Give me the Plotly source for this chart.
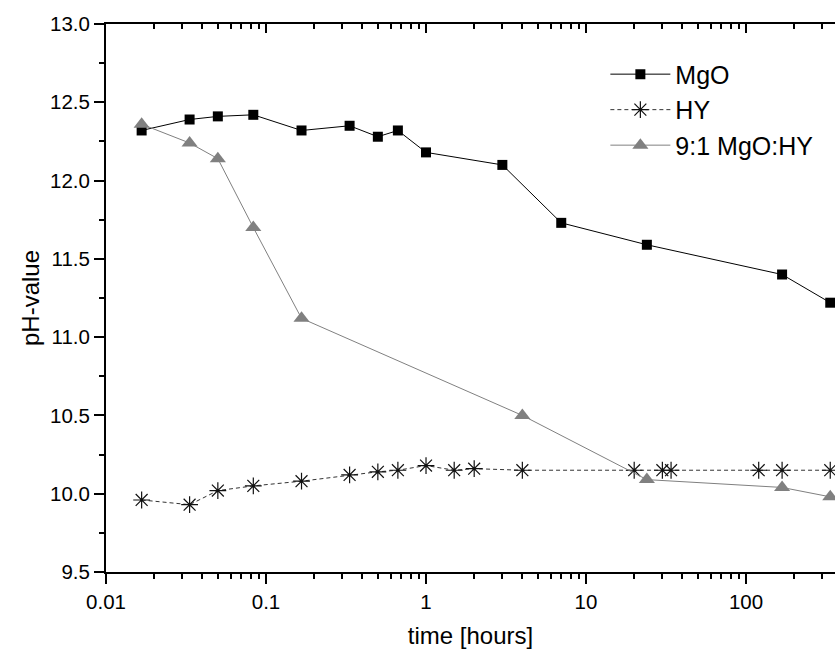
import math
import plotly.graph_objects as go

# ---- data (time in hours, pH values) ----
mgo_t = [0.0167, 0.0333, 0.05, 0.0833, 0.1667, 0.333, 0.5, 0.667, 1, 3, 7, 24, 168, 336]
mgo_ph = [12.32, 12.39, 12.41, 12.42, 12.32, 12.35, 12.28, 12.32, 12.18, 12.10, 11.73, 11.59, 11.40, 11.22]

hy_t = [0.0167, 0.0333, 0.05, 0.0833, 0.1667, 0.333, 0.5, 0.667, 1, 1.5, 2, 4, 20, 30, 34, 120, 168, 336]
hy_ph = [9.96, 9.93, 10.02, 10.05, 10.08, 10.12, 10.14, 10.15, 10.18, 10.15, 10.16, 10.15, 10.15, 10.15, 10.15, 10.15, 10.15, 10.15]

mix_t = [0.0167, 0.0333, 0.05, 0.0833, 0.1667, 4, 24, 168, 336]
mix_ph = [12.36, 12.24, 12.14, 11.70, 11.12, 10.50, 10.09, 10.04, 9.98]

x_tickvals = [0.01, 0.1, 1, 10, 100]
x_ticktext = ["0.01", "0.1", "1", "10", "100"]
y_tickvals = [9.5, 10.0, 10.5, 11.0, 11.5, 12.0, 12.5, 13.0]

FONT = "Arial, 'Liberation Sans', sans-serif"

x_minor = [m * 10 ** k for k in range(-2, 3) for m in range(2, 10)]
x_range = [-2, 2.556]

fig = go.Figure()
fig.add_trace(go.Scatter(
    x=mgo_t, y=mgo_ph, name="MgO", mode="lines+markers",
    line=dict(color="black", width=1),
    marker=dict(symbol="square", size=10, color="black"),
))
fig.add_trace(go.Scatter(
    x=hy_t, y=hy_ph, name="HY", mode="lines+markers",
    line=dict(color="#333333", width=1, dash="4px,3px"),
    marker=dict(symbol="asterisk-open", size=14, color="#111111",
                line=dict(color="#111111", width=1.2)),
))
fig.add_trace(go.Scatter(
    x=mix_t, y=mix_ph, name="9:1 MgO:HY", mode="lines+markers",
    line=dict(color="#808080", width=1),
    marker=dict(symbol="triangle-up", size=14, color="#808080"),
))

fig.update_layout(
    width=835, height=652,
    margin=dict(l=106, r=0, t=24, b=80),
    paper_bgcolor="white", plot_bgcolor="white",
    font=dict(family=FONT, color="black", size=20),
    showlegend=True,
    legend=dict(x=0.685, xanchor="left", y=0.95, yanchor="top",
                font=dict(size=25, family=FONT), bgcolor="rgba(0,0,0,0)",
                itemwidth=60, tracegroupgap=0),
    xaxis=dict(
        type="log", range=x_range,
        tickvals=x_tickvals, ticktext=x_ticktext,
        ticks="outside", ticklen=10, tickwidth=2, tickcolor="black",
        minor=dict(tickvals=x_minor, ticks="outside", ticklen=5, tickwidth=2, tickcolor="black"),
        showline=True, linewidth=2, linecolor="black",
        showgrid=False, zeroline=False,
        tickfont=dict(size=20.5),
        title=dict(text="time [hours]", font=dict(size=24), standoff=16),
    ),
    xaxis2=dict(
        type="log", range=x_range, overlaying="x", side="top", anchor="y",
        tickvals=x_tickvals, showticklabels=False,
        ticks="inside", ticklen=9, tickwidth=2, tickcolor="black",
        minor=dict(tickvals=x_minor, ticks="inside", ticklen=5, tickwidth=2, tickcolor="black"),
        showline=True, linewidth=2, linecolor="black",
        showgrid=False, zeroline=False,
    ),
    yaxis=dict(
        range=[9.5, 13.0], tickvals=y_tickvals, tickformat=".1f",
        ticks="outside", ticklen=10, tickwidth=2, tickcolor="black",
        minor=dict(dtick=0.25, ticks="outside", ticklen=5, tickwidth=2, tickcolor="black"),
        showline=True, linewidth=2, linecolor="black",
        showgrid=False, zeroline=False,
        tickfont=dict(size=20.5),
        title=dict(text="pH-value", font=dict(size=24), standoff=4),
    ),
)

# invisible trace so the mirrored top axis is drawn
fig.add_trace(go.Scatter(x=[], y=[], xaxis="x2", showlegend=False, hoverinfo="skip"))

fig.write_html("out.html")
